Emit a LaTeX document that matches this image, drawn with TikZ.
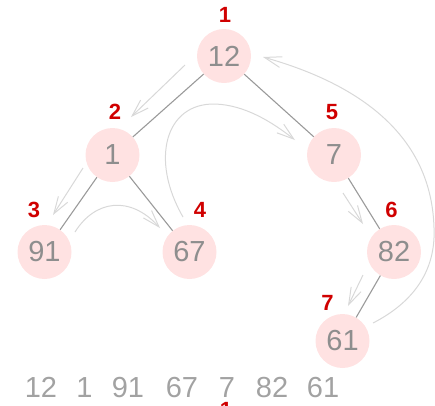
\documentclass[tikz,border=0pt]{standalone}
\usepackage{fontspec}
\setmainfont{Liberation Sans}
\usetikzlibrary{arrows.meta}
\definecolor{pinkfill}{HTML}{FFE2E2}
\definecolor{valgray}{HTML}{8E8E8E}
\definecolor{rowgray}{HTML}{A2A2A2}
\definecolor{edgegray}{HTML}{9A9A9A}
\definecolor{trgray}{HTML}{D8D8D8}
\definecolor{idxred}{HTML}{D00000}
\tikzset{
  treenode/.style={circle,fill=pinkfill,minimum size=54pt,inner sep=0pt,
    text=valgray,font=\fontsize{29}{29}\selectfont},
  idx/.style={text=idxred,font=\fontsize{22}{22}\selectfont\bfseries,inner sep=0pt},
  rowval/.style={text=rowgray,font=\fontsize{29}{29}\selectfont,anchor=base,inner sep=0pt},
  treeedge/.style={draw=edgegray,line width=1.1pt},
  travarrow/.style={draw=trgray,line width=1pt,
    -{Straight Barb[length=17pt,width=11pt,line width=1pt]}}
}
\begin{document}
\begin{tikzpicture}[x=1pt,y=-1pt]
\useasboundingbox (0,0) rectangle (435,405);
\clip (0,0) rectangle (435,405);
% tree nodes
\node[treenode] (n12) at (224,56) {12};
\node[treenode] (n1) at (112.5,155) {1};
\node[treenode] (n7) at (334,155) {7};
\node[treenode] (n91) at (44.5,252) {91};
\node[treenode] (n67) at (189.5,252) {67};
\node[treenode] (n82) at (394,252) {82};
\node[treenode] (n61) at (342.5,341) {61};
% order labels
\node[idx] (i1) at (225,15) {1};
\node[idx] (i2) at (115,112) {2};
\node[idx] (i5) at (332,112) {5};
\node[idx] (i3) at (34,210) {3};
\node[idx] (i4) at (200,210) {4};
\node[idx] (i6) at (391.5,210) {6};
\node[idx] (i7) at (327.5,303) {7};
\node[idx] (i8) at (226,410) {1};
% tree edges
\draw[treeedge] (n12) -- (n1);
\draw[treeedge] (n12) -- (n7);
\draw[treeedge] (n1) -- (n91);
\draw[treeedge] (n1) -- (n67);
\draw[treeedge] (n7) -- (n82);
\draw[treeedge] (n82) -- (n61);
% traversal arrow endpoints
\coordinate (a1s) at (185,65);   \coordinate (a1e) at (131,117);
\coordinate (a2s) at (83,168);   \coordinate (a2e) at (53,215);
\coordinate (a3s) at (75,232);   \coordinate (a3e) at (160,228);
\coordinate (a4s) at (183,217);  \coordinate (a4m) at (215,104); \coordinate (a4e) at (295,140);
\coordinate (a5s) at (343,193);  \coordinate (a5e) at (363,224);
\coordinate (a6s) at (363,275);  \coordinate (a6e) at (348,306);
\coordinate (a7s) at (373,323);  \coordinate (a7m) at (434,228); \coordinate (a7e) at (263,57);
% traversal arrows
\draw[travarrow] (a1s) -- (a1e);
\draw[travarrow] (a2s) -- (a2e);
\draw[travarrow] (a3s) .. controls (95,200) and (130,195) .. (a3e);
\draw[travarrow] (a4s) .. controls (150,160) and (165,103) .. (a4m)
  .. controls (245,105) and (272,122) .. (a4e);
\draw[travarrow] (a5s) -- (a5e);
\draw[travarrow] (a6s) -- (a6e);
\draw[travarrow] (a7s) .. controls (412,303) and (436,272) .. (a7m)
  .. controls (432,150) and (380,90) .. (a7e);
% array row
\node[rowval] (r1) at (41,397) {12};
\node[rowval] (r2) at (84.5,397) {1};
\node[rowval] (r3) at (128,397) {91};
\node[rowval] (r4) at (182,397) {67};
\node[rowval] (r5) at (227,397) {7};
\node[rowval] (r6) at (272,397) {82};
\node[rowval] (r7) at (323,397) {61};
\end{tikzpicture}
\end{document}
